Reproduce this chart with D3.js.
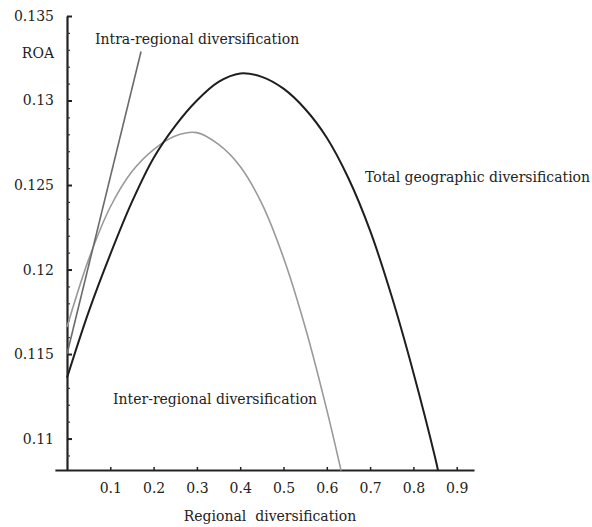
<!DOCTYPE html>
<html>
<head>
<meta charset="utf-8">
<script src="https://cdn.jsdelivr.net/npm/d3@7"></script>
<style>
  html, body { margin: 0; padding: 0; background: #fff; }
  svg text { font-family: "DejaVu Serif", "Liberation Serif", serif; fill: #222; }
</style>
</head>
<body>
<svg id="chart" width="592" height="527"></svg>
<script>
// ---- data ----
const totalX   = [0, 0.05, 0.10, 0.15, 0.20, 0.25, 0.30, 0.35, 0.40, 0.45, 0.50, 0.55, 0.60, 0.65, 0.70, 0.75, 0.80, 0.85, 0.857];
const totalY   = [0.1136, 0.1175, 0.1209, 0.1240, 0.1266, 0.1285, 0.1300, 0.1311, 0.1316, 0.1314, 0.1307, 0.1295, 0.1278, 0.1254, 0.1223, 0.1184, 0.1139, 0.1089, 0.1081];
const interX   = [0, 0.05, 0.10, 0.15, 0.20, 0.25, 0.30, 0.35, 0.40, 0.45, 0.50, 0.55, 0.60, 0.633];
const interY   = [0.1166, 0.1206, 0.1237, 0.1258, 0.1271, 0.1279, 0.1281, 0.1274, 0.1261, 0.1239, 0.1207, 0.1166, 0.1117, 0.1081];
const intraX   = [0, 0.171];
const intraY   = [0.1150, 0.1329];
const xTicks   = [0.1, 0.2, 0.3, 0.4, 0.5, 0.6, 0.7, 0.8, 0.9];
const yTicks   = [0.11, 0.115, 0.12, 0.125, 0.13, 0.135];
const yMinor   = [0.109,0.111,0.112,0.113,0.114,0.116,0.117,0.118,0.119,0.121,0.122,0.123,0.124,0.126,0.127,0.128,0.129,0.131,0.132,0.133,0.134];
const yTickLabels = ["0.11", "0.115", "0.12", "0.125", "0.13", "0.135"];
const xTickLabels = ["0.1", "0.2", "0.3", "0.4", "0.5", "0.6", "0.7", "0.8", "0.9"];
const seriesLabels = ["Total geographic diversification", "Inter-regional diversification", "Intra-regional diversification"];
const xTitle = "Regional  diversification";
const yTitle = "ROA";

// ---- scales ----
const svg = d3.select("#chart");
const x = d3.scaleLinear().domain([0, 1]).range([67, 500]);
const y = d3.scaleLinear().domain([0.10814, 0.135]).range([470, 16]);

// axis scale for x (extends slightly left of the y axis, as in the reference)
const xAxisScale = d3.scaleLinear().domain([-0.028, 0.94]).range([x(-0.028), x(0.94)]);
const yAxisScale = y.copy();

// ---- axes ----
const xAxis = d3.axisBottom(xAxisScale)
  .tickValues(xTicks)
  .tickFormat((d, i) => xTickLabels[i])
  .tickSizeInner(-3).tickSizeOuter(0).tickPadding(13);
const gx = svg.append("g").attr("transform", `translate(0,${y(0.10814)})`).call(xAxis);
gx.select(".domain").attr("stroke", "#222").attr("stroke-width", 2.2);
gx.selectAll(".tick line").attr("stroke", "#222").attr("stroke-width", 1.5);
gx.selectAll(".tick text").attr("font-size", 14).attr("font-family", "DejaVu Serif").attr("fill", "#222");

const yAxis = d3.axisLeft(yAxisScale)
  .tickValues(yTicks)
  .tickFormat((d, i) => yTickLabels[i])
  .tickSizeInner(-5).tickSizeOuter(0).tickPadding(13);
const gy = svg.append("g").attr("transform", `translate(${x(0)},0)`).call(yAxis);
gy.select(".domain").attr("stroke", "#222").attr("stroke-width", 2.2);
gy.selectAll(".tick line").attr("stroke", "#222").attr("stroke-width", 2);
gy.selectAll(".tick text").attr("font-size", 14).attr("font-family", "DejaVu Serif").attr("fill", "#222");

const yMinorAxis = d3.axisLeft(yAxisScale)
  .tickValues(yMinor).tickFormat("")
  .tickSizeInner(-3).tickSizeOuter(0);
const gym = svg.append("g").attr("transform", `translate(${x(0)},0)`).call(yMinorAxis);
gym.select(".domain").remove();
gym.selectAll(".tick line").attr("stroke", "#333").attr("stroke-width", 1.2);

// ---- curves ----
const line = d3.line().x(d => x(d[0])).y(d => y(d[1])).curve(d3.curveCatmullRom.alpha(0.5));
const total = totalX.map((v, i) => [v, totalY[i]]);
const inter = interX.map((v, i) => [v, interY[i]]);
const intra = intraX.map((v, i) => [v, intraY[i]]);

svg.append("path").datum(inter).attr("d", line)
  .attr("fill", "none").attr("stroke", "#9a9a9a").attr("stroke-width", 1.6);
svg.append("path").datum(intra).attr("d", d3.line().x(d => x(d[0])).y(d => y(d[1])))
  .attr("fill", "none").attr("stroke", "#6a6a6a").attr("stroke-width", 1.6);
svg.append("path").datum(total).attr("d", line)
  .attr("fill", "none").attr("stroke", "#1e1e1e").attr("stroke-width", 2);

// ---- labels ----
svg.append("text").attr("x", 365).attr("y", 182).attr("font-size", 14).text(seriesLabels[0]);
svg.append("text").attr("x", 113).attr("y", 404).attr("font-size", 14).text(seriesLabels[1]);
svg.append("text").attr("x", 95).attr("y", 44).attr("font-size", 14).text(seriesLabels[2]);
svg.append("text").attr("x", 54).attr("y", 58).attr("text-anchor", "end").attr("font-size", 14).text(yTitle);
svg.append("text").attr("x", 270).attr("y", 521).attr("text-anchor", "middle").attr("font-size", 14)
  .attr("xml:space", "preserve").style("white-space", "pre").text(xTitle);
</script>
</body>
</html>
